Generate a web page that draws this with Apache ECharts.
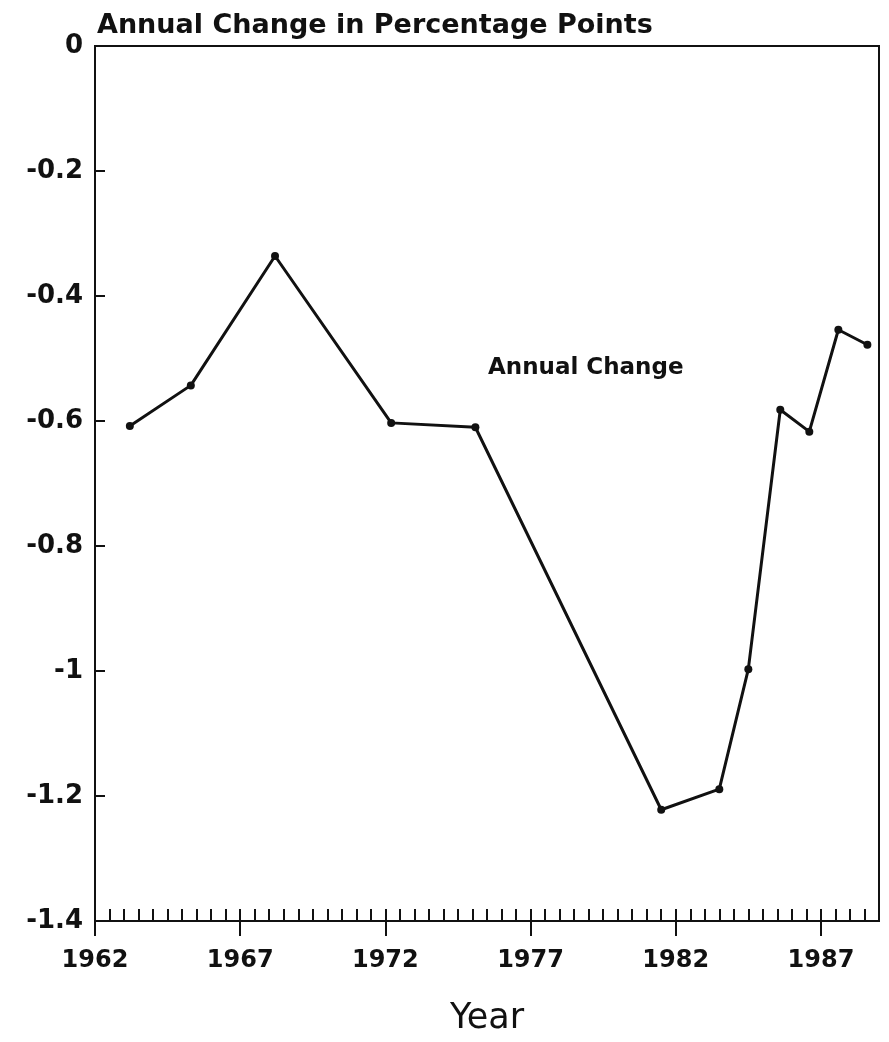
<!DOCTYPE html>
<html>
<head>
<meta charset="utf-8">
<script src="https://cdn.jsdelivr.net/npm/echarts@6/dist/echarts.min.js"></script>
<style>
  html, body { margin: 0; padding: 0; background: #ffffff; }
  #chart { width: 889px; height: 1042px; }
</style>
</head>
<body>
<div id="chart"></div>
<script>
// values (year position, annual change)
var years = [1963.2, 1965.3, 1968.2, 1972.2, 1975.1, 1981.5, 1983.5, 1984.5, 1985.6, 1986.6, 1987.6, 1988.6];
var changes = [-0.608, -0.543, -0.336, -0.603, -0.61, -1.222, -1.189, -0.997, -0.582, -0.617, -0.454, -0.478];
var yearTicks = [1962, 1967, 1972, 1977, 1982, 1987];
var titleText = "Annual Change in Percentage Points";
var seriesLabel = "Annual Change";
var labelAt = [1978.9, -0.515];

var fontFamily = "'DejaVu Sans', 'Liberation Sans', Arial, sans-serif";
var ink = "#111111";
var gridTop = 46;
var gridBottom = 121;
var plotHeight = 1042 - gridTop - gridBottom;

var points = [];
for (let i = 0; i < years.length; i++) {
    points.push([years[i], changes[i]]);
}

var chart = echarts.init(document.getElementById("chart"), null, { renderer: "canvas" });

var option = {
    backgroundColor: "#ffffff",
    animation: false,
    title: {
        text: titleText,
        left: 92,
        top: 7,
        textStyle: { fontFamily: fontFamily, fontSize: 27, fontWeight: "bold", color: ink }
    },
    grid: {
        left: 95,
        right: 10,
        top: gridTop,
        bottom: gridBottom,
        show: true,
        borderColor: ink,
        borderWidth: 2,
        backgroundColor: "transparent"
    },
    xAxis: [
        {
            // five-year major ticks with labels
            type: "value",
            position: "bottom",
            min: 1962,
            max: 1989,
            interval: 5,
            name: "Year",
            nameLocation: "middle",
            nameGap: 80,
            nameTextStyle: { fontFamily: fontFamily, fontSize: 35, color: ink },
            axisLine: { show: true, onZero: false, lineStyle: { color: ink, width: 2 } },
            axisTick: { show: true, inside: false, length: 15, lineStyle: { color: ink, width: 2 } },
            axisLabel: {
                show: true,
                margin: 28,
                showMaxLabel: false,
                fontFamily: fontFamily,
                fontSize: 24,
                fontWeight: "bold",
                color: ink,
                formatter: function (v) {
                    return yearTicks.indexOf(v) >= 0 ? String(v) : "";
                }
            },
            splitLine: { show: false }
        },
        {
            // half-year minor ticks: a "top" axis pulled down onto the bottom edge,
            // so its outward ticks point up into the plot
            type: "value",
            position: "top",
            offset: -plotHeight,
            min: 1962,
            max: 1989,
            interval: 0.5,
            axisLine: { show: false, onZero: false },
            axisTick: { show: true, inside: false, length: 12, lineStyle: { color: ink, width: 2 } },
            axisLabel: { show: false },
            splitLine: { show: false }
        }
    ],
    yAxis: {
        type: "value",
        min: -1.4,
        max: 0,
        interval: 0.2,
        axisLine: { show: true, onZero: false, lineStyle: { color: ink, width: 2 } },
        axisTick: { show: true, inside: true, length: 10, lineStyle: { color: ink, width: 2 } },
        axisLabel: {
            margin: 12,
            fontFamily: fontFamily,
            fontSize: 26,
            fontWeight: "bold",
            color: ink,
            formatter: function (v) {
                return String(Math.round(v * 10) / 10);
            }
        },
        splitLine: { show: false }
    },
    series: [
        {
            name: seriesLabel,
            type: "line",
            xAxisIndex: 0,
            data: points,
            symbol: "circle",
            symbolSize: 8,
            showAllSymbol: true,
            lineStyle: { color: ink, width: 3 },
            itemStyle: { color: ink },
            markPoint: {
                symbol: "circle",
                symbolSize: 0,
                label: {
                    show: true,
                    formatter: seriesLabel,
                    fontFamily: fontFamily,
                    fontSize: 23,
                    fontWeight: "bold",
                    color: ink
                },
                data: [{ coord: labelAt }]
            }
        }
    ]
};

chart.setOption(option);
</script>
</body>
</html>
